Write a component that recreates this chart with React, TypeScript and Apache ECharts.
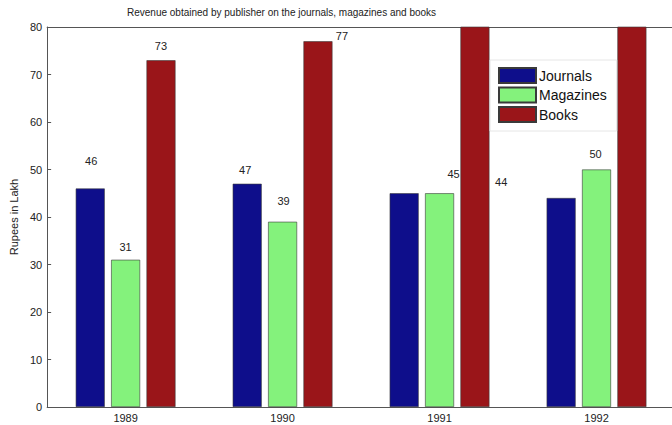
import React, { useEffect, useRef } from "react";
import * as echarts from "echarts";

const titleText = "Revenue obtained by publisher on the journals, magazines and books";
const years = ["1989", "1990", "1991", "1992"];
const seriesNames = ["Journals", "Magazines", "Books"];
const journals = [46, 47, 45, 44];
const magazines = [31, 39, 45, 50];
const books = [73, 77, 85, 90];
const yTicks = { min: 0, max: 80, interval: 10 };
const yName = "Rupees in Lakh";

// label styling (not data): visibility and offsets per bar
const labelShow = [
  [true, true, false, true],
  [true, true, true, true],
  [true, true, false, false],
];
const labelRise = [
  [28.5, 15, 0, 17],
  [14, 22, 20, 17],
  [15, 6, 0, 0],
];
const labelShift = [
  [1, -2, 0, -60],
  [0, 1, 14, -1],
  [0, 24, 0, 0],
];
const colors = ["#0e0e8b", "#84f27c", "#9a1519"];

export default function App() {
  const ref = useRef<HTMLDivElement>(null);
  useEffect(() => {
    if (!ref.current) return;
    const chart = echarts.init(ref.current, undefined, { renderer: "svg" });
    const allValues = [journals, magazines, books];
    const series = allValues.map((vals, s) => ({
      name: seriesNames[s],
      type: "bar",
      barWidth: 29,
      barGap: "22%",
      clip: true,
      itemStyle: { color: colors[s], borderColor: "#3a3a3a", borderWidth: 0.6 },
      label: {
        show: true,
        position: "top",
        distance: 0,
        fontSize: 11,
        color: "#222",
        fontFamily: "Liberation Sans, Arial, sans-serif",
      },
      data: vals.map((v, i) => ({
        value: v,
        label: {
          show: labelShow[s][i],
          offset: [labelShift[s][i], -(labelRise[s][i] - 6.5)],
        },
      })),
    }));
    chart.setOption({
      animation: false,
      backgroundColor: "#ffffff",
      textStyle: { fontFamily: "Liberation Sans, Arial, sans-serif" },
      title: {
        text: titleText,
        left: 127,
        top: 7,
        padding: 0,
        textStyle: { fontSize: 10, fontWeight: "normal", color: "#222" },
      },
      legend: {
        orient: "vertical",
        left: 490,
        top: 60,
        padding: [7, 10, 8, 8],
        backgroundColor: "#ffffff",
        borderColor: "#e6e6e6",
        borderWidth: 1,
        itemWidth: 37,
        itemHeight: 15,
        itemGap: 2.5,
        icon: "rect",
        textStyle: { fontSize: 14, color: "#111", padding: [0, 0, 0, -2] },
        data: seriesNames,
      },
      grid: { left: 43, top: 27, bottom: 18, right: 5 },
      xAxis: [
        {
          type: "category",
          data: years,
          position: "bottom",
          axisLine: { lineStyle: { color: "#555" } },
          axisTick: { show: false },
          axisLabel: { fontSize: 11, color: "#222", margin: 5 },
        },
        {
          type: "category",
          data: years,
          position: "top",
          axisLine: { lineStyle: { color: "#555" } },
          axisTick: { inside: true, alignWithLabel: true, length: 4, lineStyle: { color: "#555" } },
          axisLabel: { show: false },
        },
      ],
      yAxis: [
        {
          type: "value",
          min: yTicks.min,
          max: yTicks.max,
          interval: yTicks.interval,
          name: yName,
          nameLocation: "middle",
          nameGap: 28,
          nameTextStyle: { fontSize: 11, color: "#222" },
          axisLine: { show: true, lineStyle: { color: "#555" } },
          axisTick: { show: true, inside: true, length: 4, lineStyle: { color: "#555" } },
          axisLabel: { fontSize: 11, color: "#222", margin: 5 },
          splitLine: { show: false },
        },
      ],
      series,
    });
    return () => chart.dispose();
  }, []);
  return (
    <div
      ref={ref}
      style={{ position: "fixed", left: 0, top: 0, width: 680, height: 425 }}
    />
  );
}
